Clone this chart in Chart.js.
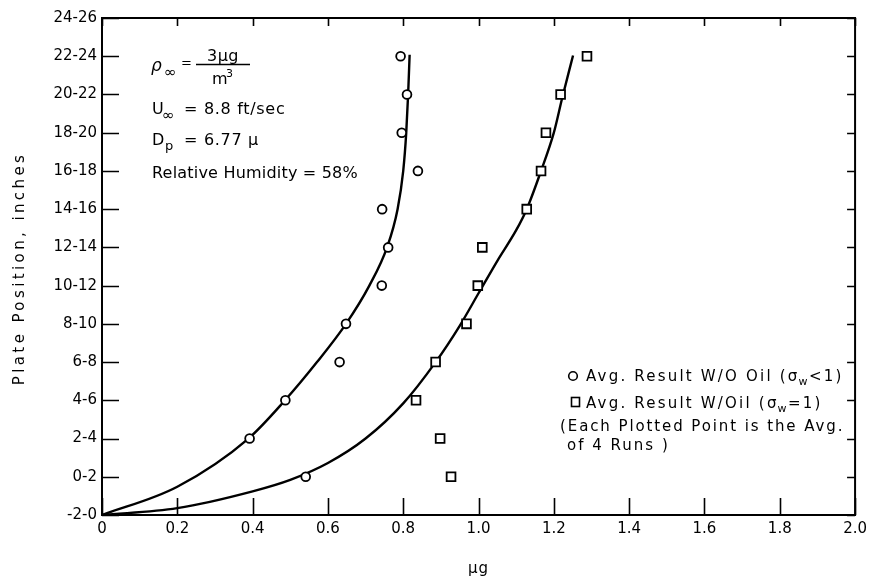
<!DOCTYPE html>
<html>
<head>
<meta charset="utf-8">
<script src="https://cdn.jsdelivr.net/npm/chart.js@4.4.1/dist/chart.umd.min.js"></script>
<style>
  html, body { margin: 0; padding: 0; background: #fff; }
  #wrap { width: 872px; height: 577px; }
</style>
</head>
<body>
<div id="wrap"><canvas id="c"></canvas></div>
<script>
// --- DATA ---
// y is the plate position slot: 0 = "-2-0", 1 = "0-2", ... 13 = "24-26"
const yTickLabels = ['-2-0', '0-2', '2-4', '4-6', '6-8', '8-10', '10-12', '12-14',
                     '14-16', '16-18', '18-20', '20-22', '22-24', '24-26'];
const xTickLabels = ['0', '0.2', '0.4', '0.6', '0.8', '1.0', '1.2', '1.4', '1.6', '1.8', '2.0'];

// Avg. result W/O oil (circles)
const noOilSlot = [1, 2, 3, 4, 5, 6, 7, 8, 9, 10, 11, 12];
const noOilMass = [0.541, 0.392, 0.487, 0.631, 0.648, 0.743, 0.760, 0.744, 0.839, 0.796, 0.810, 0.793];

// Avg. result W/ oil (squares)
const oilSlot = [1, 2, 3, 4, 5, 6, 7, 8, 9, 10, 11, 12];
const oilMass = [0.927, 0.898, 0.834, 0.886, 0.968, 0.998, 1.010, 1.128, 1.166, 1.179, 1.218, 1.288];

// hand-drawn fitted curves
const noOilCurveX = [0, 0.2, 0.389, 0.486, 0.571, 0.648, 0.710, 0.757, 0.785, 0.800, 0.808, 0.813, 0.817];
const noOilCurveY = [0, 0.74, 2.00, 3.00, 4.00, 5.00, 6.00, 7.00, 8.00, 9.00, 10.00, 11.00, 12.04];
const oilCurveX = [0, 0.2, 0.4, 0.5, 0.6, 0.7, 0.8, 0.886, 0.95, 1.0, 1.05, 1.1, 1.128, 1.166, 1.2, 1.222, 1.251];
const oilCurveY = [0, 0.18, 0.62, 0.92, 1.36, 2.00, 2.92, 4.00, 4.95, 5.80, 6.65, 7.45, 8.00, 9.00, 10.00, 10.90, 12.02];

const FONT = '"DejaVu Sans", sans-serif';

function pts(xs, ys) {
    return xs.map((x, i) => ({ x: x, y: ys[i] }));
}

// --- drawing helpers ---
function put(ctx, s, x, y, size, opts = {}) {
    ctx.font = (opts.italic ? 'italic ' : '') + size + 'px ' + FONT;
    ctx.letterSpacing = (opts.sp || 0) + 'px';
    ctx.textAlign = opts.align || 'left';
    ctx.fillText(s, x, y);
    return x + ctx.measureText(s).width;
}

// frame + inner tick marks + texts
const decor = {
    id: 'decor',
    afterDraw(chart) {
        const { ctx, chartArea: a, scales } = chart;
        const xs = scales.x, ys = scales.y;
        ctx.save();
        ctx.strokeStyle = '#000';
        ctx.fillStyle = '#000';

        // frame
        ctx.lineWidth = 2;
        ctx.strokeRect(a.left, a.top, a.right - a.left, a.bottom - a.top);

        // ticks pointing inward
        ctx.lineWidth = 1.6;
        ctx.beginPath();
        xs.ticks.forEach(t => {
            const px = Math.round(xs.getPixelForValue(t.value)) + 0.5;
            ctx.moveTo(px, a.bottom); ctx.lineTo(px, a.bottom - 17);
            ctx.moveTo(px, a.top); ctx.lineTo(px, a.top + 8);
        });
        ys.ticks.forEach(t => {
            const py = Math.round(ys.getPixelForValue(t.value)) + 0.5;
            ctx.moveTo(a.left, py); ctx.lineTo(a.left + 17, py);
            ctx.moveTo(a.right, py); ctx.lineTo(a.right - 8, py);
        });
        ctx.stroke();

        // axis titles
        put(ctx, 'μg', (a.left + a.right) / 2, 573, 15, { align: 'center', sp: 1 });
        ctx.save();
        ctx.translate(24, (a.top + a.bottom) / 2 + 2);
        ctx.rotate(-Math.PI / 2);
        put(ctx, 'Plate Position, inches', 0, 0, 15, { align: 'center', sp: 3.4 });
        ctx.restore();

        // conditions block (top left)
        put(ctx, 'ρ', 151, 71, 17, { italic: true });
        put(ctx, '∞', 164, 77, 15);
        put(ctx, '=', 181, 67, 13);
        put(ctx, '3μg', 223, 61, 16, { align: 'center', sp: 0.5 });
        ctx.lineWidth = 1.5;
        ctx.beginPath(); ctx.moveTo(196, 64.5); ctx.lineTo(250, 64.5); ctx.stroke();
        put(ctx, 'm', 212, 84, 16);
        put(ctx, '3', 226, 77, 11);

        put(ctx, 'U', 152, 114, 16);
        put(ctx, '∞', 162, 120, 15);
        put(ctx, '= 8.8 ft/sec', 184, 114, 16, { sp: 0.7 });

        put(ctx, 'D', 152, 145, 16);
        put(ctx, 'p', 165, 150, 13);
        put(ctx, '= 6.77 μ', 184, 145, 16, { sp: 0.7 });

        put(ctx, 'Relative Humidity = 58%', 152, 178, 16, { sp: 0.2 });

        // legend
        ctx.lineWidth = 1.6;
        ctx.beginPath(); ctx.arc(573, 376, 4.3, 0, Math.PI * 2); ctx.stroke();
        let x = put(ctx, 'Avg. Result W/O Oil (σ', 586, 381, 15, { sp: 2.2 });
        x = put(ctx, 'w', x - 1, 385, 11, { sp: 0.5 });
        put(ctx, '<1)', x + 1, 381, 15, { sp: 2.2 });

        ctx.strokeRect(571.5, 397.5, 8, 9);
        x = put(ctx, 'Avg. Result W/Oil (σ', 586, 408, 15, { sp: 2.2 });
        x = put(ctx, 'w', x - 1, 412, 11, { sp: 0.5 });
        put(ctx, '=1)', x + 1, 408, 15, { sp: 2.2 });

        put(ctx, '(Each Plotted Point is the Avg.', 560, 431, 15, { sp: 1.9 });
        put(ctx, 'of 4 Runs )', 567, 450, 15, { sp: 2 });
        ctx.restore();
    }
};

const chart = new Chart(document.getElementById('c'), {
    type: 'scatter',
    data: {
        datasets: [
            {
                label: 'W/O Oil curve',
                data: pts(noOilCurveX, noOilCurveY),
                showLine: true,
                borderColor: '#000',
                borderWidth: 2.4,
                pointRadius: 0,
                cubicInterpolationMode: 'monotone',
                order: 3
            },
            {
                label: 'W/Oil curve',
                data: pts(oilCurveX, oilCurveY),
                showLine: true,
                borderColor: '#000',
                borderWidth: 2.4,
                pointRadius: 0,
                cubicInterpolationMode: 'monotone',
                order: 3
            },
            {
                label: 'Avg. Result W/O Oil',
                data: pts(noOilMass, noOilSlot),
                pointStyle: 'circle',
                pointRadius: 4.4,
                borderWidth: 1.8,
                borderColor: '#000',
                backgroundColor: '#fff',
                order: 1
            },
            {
                label: 'Avg. Result W/Oil',
                data: pts(oilMass, oilSlot),
                pointStyle: 'rect',
                pointRadius: 6.2,
                borderWidth: 1.8,
                borderColor: '#000',
                backgroundColor: '#fff',
                order: 1
            }
        ]
    },
    options: {
        responsive: true,
        maintainAspectRatio: false,
        animation: false,
        devicePixelRatio: 1,
        layout: { padding: { left: 0, right: 12, top: 18, bottom: 0 } },
        plugins: { legend: { display: false }, tooltip: { enabled: false } },
        scales: {
            x: {
                type: 'linear',
                min: 0, max: 2,
                grid: { display: false, drawTicks: false },
                border: { display: false },
                ticks: {
                    stepSize: 0.2,
                    padding: 5,
                    color: '#000',
                    font: { family: FONT, size: 15 },
                    callback: (v, i) => xTickLabels[i]
                },
                afterFit: s => { s.height = 62; }
            },
            y: {
                type: 'linear',
                min: 0, max: 13,
                grid: { display: false, drawTicks: false },
                border: { display: false },
                ticks: {
                    stepSize: 1,
                    padding: 5,
                    color: '#000',
                    font: { family: FONT, size: 15 },
                    callback: (v) => yTickLabels[v]
                },
                afterFit: s => { s.width = 102; }
            }
        }
    },
    plugins: [decor]
});
</script>
</body>
</html>
